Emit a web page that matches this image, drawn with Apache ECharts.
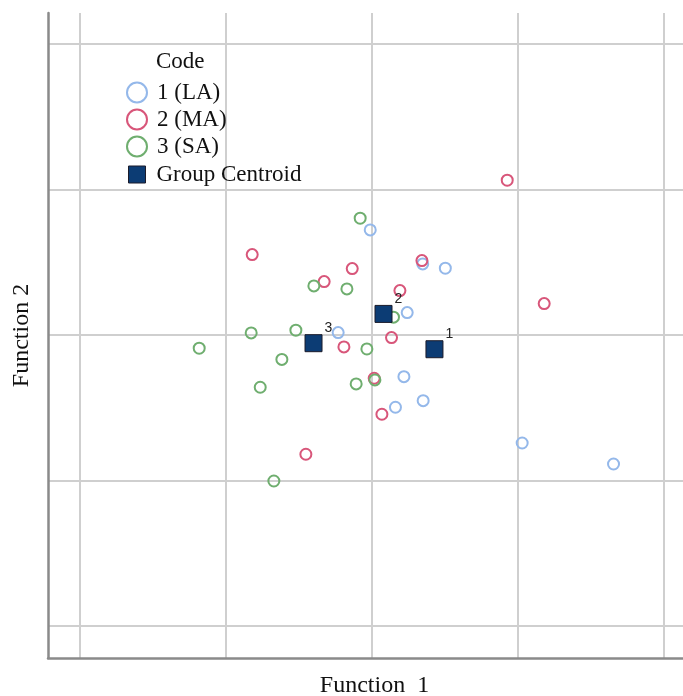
<!DOCTYPE html>
<html>
<head>
<meta charset="utf-8">
<script src="https://cdn.jsdelivr.net/npm/echarts@6/dist/echarts.min.js"></script>
<style>html,body{margin:0;padding:0;background:#fff}#c{width:683px;height:696px}</style>
</head>
<body>
<div id="c"></div>
<script>
// Function 1 / Function 2 discriminant scores
const gridTicks = [-4, -2, 0, 2, 4];
const seriesNames = ['1 (LA)', '2 (MA)', '3 (SA)', 'Group Centroid'];
const groupLA = [[-0.02,1.445],[0.70,0.977],[1.01,0.918],[0.487,0.307],[-0.46,0.032],[0.442,-0.574],[0.706,-0.905],[0.326,-0.995],[2.064,-1.487],[3.317,-1.776]];
const groupMA = [[-1.639,1.105],[0.689,1.023],[-0.267,0.913],[-0.652,0.734],[0.387,0.610],[0.272,-0.037],[-0.381,-0.165],[0.034,-0.596],[0.140,-1.092],[-0.903,-1.642],[1.859,2.129],[2.366,0.431]];
const groupSA = [[-0.158,1.606],[-0.793,0.674],[-0.340,0.633],[0.299,0.244],[-1.653,0.028],[-1.040,0.065],[-0.066,-0.193],[-2.366,-0.183],[-1.232,-0.337],[-1.529,-0.720],[-0.213,-0.674],[0.044,-0.619],[-1.342,-2.010]];
const centroids = [[0.861,-0.197],[0.162,0.289],[-0.798,-0.114]];
const centroidLabels = ['1', '2', '3'];

const colors = ['#94b8ea', '#d8567a', '#6fae6f'];
const serif = 'Liberation Serif';

const chart = echarts.init(document.getElementById('c'));
function ring(name, data, color) {
  return {
    name, type: 'scatter', data, symbol: 'circle', symbolSize: 11,
    itemStyle: { color: 'rgba(255,255,255,0)', borderColor: color, borderWidth: 2, opacity: 1 },
    z: 3
  };
}
chart.setOption({
  animation: false,
  backgroundColor: '#fff',
  title: {
    text: 'Code', left: 156, top: 50, padding: 0,
    textStyle: { fontFamily: serif, fontSize: 23, fontWeight: 'normal', color: '#111' }
  },
  legend: [{
    orient: 'vertical', left: 126, top: 81, padding: 0,
    itemWidth: 20, itemHeight: 20, itemGap: 4,
    textStyle: { fontFamily: serif, fontSize: 23, color: '#111', padding: [0, 0, 0, 5] },
    data: seriesNames.slice(0, 3).map((n, i) => ({
      name: n, icon: 'circle',
      itemStyle: { color: 'rgba(255,255,255,0)', borderColor: colors[i], borderWidth: 2, opacity: 1 }
    }))
  }, {
    orient: 'vertical', left: 128, top: 163, padding: 0,
    itemWidth: 17, itemHeight: 17,
    textStyle: { fontFamily: serif, fontSize: 23, color: '#111', padding: [0, 0, 0, 6] },
    data: [{ name: seriesNames[3], icon: 'rect', itemStyle: { color: '#0c3c74', borderColor: '#1b1b2a', borderWidth: 1, opacity: 1 } }]
  }],
  grid: { left: 48, right: 0, top: 13, bottom: 38, containLabel: false, outerBoundsMode: 'none' },
  xAxis: {
    type: 'value', min: -4.44, max: 4.27,
    name: 'Function  1', nameLocation: 'middle', nameGap: 16,
    nameTextStyle: { fontFamily: serif, fontSize: 24, color: '#111', padding: [0, 0, 0, 18] },
    axisLine: { show: true, onZero: false, lineStyle: { color: '#8a8a8a', width: 2.5 } },
    axisTick: { show: false, customValues: gridTicks },
    axisLabel: { show: false, customValues: gridTicks },
    splitLine: { show: true, lineStyle: { color: '#cfcfcf', width: 2 } }
  },
  yAxis: {
    type: 'value', min: -4.446, max: 4.43,
    name: 'Function 2', nameLocation: 'middle', nameGap: 14, nameRotate: 90,
    nameTextStyle: { fontFamily: serif, fontSize: 24, color: '#111' },
    axisLine: { show: true, onZero: false, lineStyle: { color: '#8a8a8a', width: 2.5 } },
    axisTick: { show: false, customValues: gridTicks },
    axisLabel: { show: false, customValues: gridTicks },
    splitLine: { show: true, lineStyle: { color: '#cfcfcf', width: 2 } }
  },
  series: [
    ring(seriesNames[0], groupLA, colors[0]),
    ring(seriesNames[1], groupMA, colors[1]),
    ring(seriesNames[2], groupSA, colors[2]),
    {
      name: seriesNames[3], type: 'scatter', symbol: 'rect', symbolSize: 17, z: 5,
      data: centroids.map((c, i) => ({ value: c, label: { formatter: centroidLabels[i] } })),
      itemStyle: { color: '#0c3c74', borderColor: '#1b1b2a', borderWidth: 1, opacity: 1 },
      label: {
        show: true, position: 'right', distance: 2, offset: [0, -15],
        fontFamily: 'Liberation Sans', fontSize: 14, color: '#222'
      }
    }
  ]
});
</script>
</body>
</html>
